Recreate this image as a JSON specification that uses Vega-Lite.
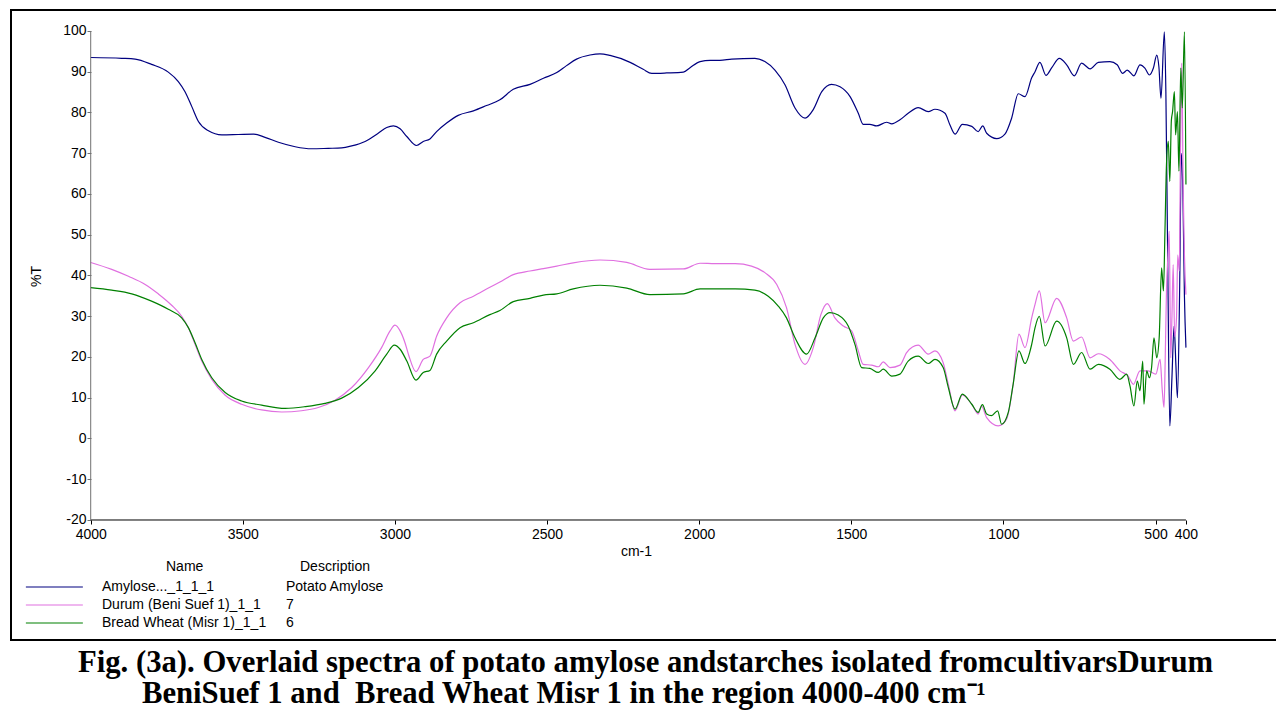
{
  "$schema": "https://vega.github.io/schema/vega-lite/v6.json",
  "width": 1265,
  "height": 630,
  "autosize": "none",
  "padding": {"left": 11, "top": 10, "right": 0, "bottom": 70},
  "background": "white",
  "title": {
    "text": ["Fig. (3a). Overlaid spectra of potato amylose andstarches isolated fromcultivarsDurum", "\u200b\u00a0\u00a0\u00a0\u00a0\u00a0\u00a0\u00a0\u00a0\u200aBeniSuef 1 and\u00a0 Bread Wheat Misr 1 in the region 4000-400 cm\u207b\u00b9"],
    "orient": "bottom",
    "anchor": "start",
    "frame": "group",
    "dx": 67,
    "offset": 8,
    "font": "Liberation Serif",
    "fontSize": 30.7,
    "fontWeight": "bold",
    "color": "black",
    "lineHeight": 31
  },
  "datasets": {
    "meta": [
      {"s": "a", "name": "Amylose..._1_1_1", "description": "Potato Amylose"},
      {"s": "d", "name": "Durum (Beni Suef 1)_1_1", "description": "7"},
      {"s": "b", "name": "Bread Wheat (Misr 1)_1_1", "description": "6"}
    ]
  },
  "data": {"values": [
    {"s":"a","w":4000,"t":93.5},{"s":"a","w":3898,"t":93.3},{"s":"a","w":3854,"t":93.1},{"s":"a","w":3800,"t":91.8},{"s":"a","w":3745,"t":89.9},{"s":"a","w":3712,"t":87.6},{"s":"a","w":3690,"t":85.1},{"s":"a","w":3668,"t":81.5},{"s":"a","w":3646,"t":77.8},{"s":"a","w":3613,"t":75.5},{"s":"a","w":3569,"t":74.5},{"s":"a","w":3515,"t":74.6},{"s":"a","w":3465,"t":74.7},{"s":"a","w":3427,"t":73.9},{"s":"a","w":3383,"t":72.7},{"s":"a","w":3328,"t":71.6},{"s":"a","w":3274,"t":71.1},{"s":"a","w":3219,"t":71.2},{"s":"a","w":3175,"t":71.3},{"s":"a","w":3142,"t":71.8},{"s":"a","w":3098,"t":72.9},{"s":"a","w":3055,"t":74.9},{"s":"a","w":3027,"t":76.3},{"s":"a","w":3005,"t":76.7},{"s":"a","w":2983,"t":76.0},{"s":"a","w":2961,"t":74.1},{"s":"a","w":2929,"t":71.9},{"s":"a","w":2907,"t":72.9},{"s":"a","w":2885,"t":73.5},{"s":"a","w":2863,"t":75.3},{"s":"a","w":2830,"t":77.4},{"s":"a","w":2792,"t":79.3},{"s":"a","w":2742,"t":80.4},{"s":"a","w":2699,"t":81.7},{"s":"a","w":2655,"t":83.1},{"s":"a","w":2611,"t":85.7},{"s":"a","w":2556,"t":86.9},{"s":"a","w":2512,"t":88.4},{"s":"a","w":2468,"t":89.8},{"s":"a","w":2436,"t":91.5},{"s":"a","w":2403,"t":93.1},{"s":"a","w":2359,"t":94.1},{"s":"a","w":2326,"t":94.4},{"s":"a","w":2293,"t":94.0},{"s":"a","w":2227,"t":92.3},{"s":"a","w":2184,"t":90.6},{"s":"a","w":2156,"t":89.6},{"s":"a","w":2107,"t":89.7},{"s":"a","w":2052,"t":89.9},{"s":"a","w":2030,"t":91.0},{"s":"a","w":1997,"t":92.5},{"s":"a","w":1964,"t":92.8},{"s":"a","w":1932,"t":92.8},{"s":"a","w":1893,"t":93.1},{"s":"a","w":1817,"t":93.3},{"s":"a","w":1784,"t":92.5},{"s":"a","w":1751,"t":90.4},{"s":"a","w":1718,"t":86.8},{"s":"a","w":1685,"t":81.1},{"s":"a","w":1652,"t":78.6},{"s":"a","w":1625,"t":80.7},{"s":"a","w":1597,"t":85.1},{"s":"a","w":1565,"t":86.9},{"s":"a","w":1537,"t":86.3},{"s":"a","w":1504,"t":83.9},{"s":"a","w":1477,"t":79.8},{"s":"a","w":1461,"t":77.1},{"s":"a","w":1439,"t":77.1},{"s":"a","w":1417,"t":76.7},{"s":"a","w":1384,"t":77.6},{"s":"a","w":1367,"t":77.2},{"s":"a","w":1340,"t":78.2},{"s":"a","w":1313,"t":79.8},{"s":"a","w":1280,"t":81.2},{"s":"a","w":1247,"t":80.2},{"s":"a","w":1225,"t":80.8},{"s":"a","w":1192,"t":79.8},{"s":"a","w":1176,"t":77.0},{"s":"a","w":1159,"t":74.7},{"s":"a","w":1135,"t":77.1},{"s":"a","w":1104,"t":76.6},{"s":"a","w":1083,"t":75.3},{"s":"a","w":1068,"t":76.7},{"s":"a","w":1055,"t":74.9},{"s":"a","w":1022,"t":73.6},{"s":"a","w":995,"t":74.7},{"s":"a","w":973,"t":78.6},{"s":"a","w":951,"t":84.6},{"s":"a","w":929,"t":83.9},{"s":"a","w":907,"t":88.5},{"s":"a","w":896,"t":90.0},{"s":"a","w":880,"t":92.3},{"s":"a","w":860,"t":89.1},{"s":"a","w":841,"t":91.0},{"s":"a","w":816,"t":93.3},{"s":"a","w":792,"t":91.7},{"s":"a","w":767,"t":89.0},{"s":"a","w":743,"t":92.1},{"s":"a","w":715,"t":90.7},{"s":"a","w":688,"t":92.3},{"s":"a","w":650,"t":92.5},{"s":"a","w":626,"t":91.7},{"s":"a","w":608,"t":89.6},{"s":"a","w":593,"t":90.4},{"s":"a","w":571,"t":89.0},{"s":"a","w":551,"t":91.7},{"s":"a","w":535,"t":90.9},{"s":"a","w":520,"t":89.2},{"s":"a","w":507,"t":90.9},{"s":"a","w":496,"t":94.1},{"s":"a","w":489,"t":91.3},{"s":"a","w":482,"t":83.5},{"s":"a","w":471,"t":99.8},{"s":"a","w":466,"t":85.1},{"s":"a","w":460,"t":44.3},{"s":"a","w":453,"t":3.1},{"s":"a","w":446,"t":15.0},{"s":"a","w":439,"t":27.6},{"s":"a","w":433,"t":18.0},{"s":"a","w":428,"t":10.0},{"s":"a","w":421,"t":35.0},{"s":"a","w":415,"t":70.0},{"s":"a","w":410,"t":60.0},{"s":"a","w":405,"t":35.0},{"s":"a","w":400,"t":22.3},
    {"s":"d","w":4000,"t":43.2},{"s":"d","w":3931,"t":41.5},{"s":"d","w":3876,"t":39.8},{"s":"d","w":3821,"t":37.8},{"s":"d","w":3778,"t":35.5},{"s":"d","w":3734,"t":32.7},{"s":"d","w":3701,"t":30.0},{"s":"d","w":3679,"t":27.2},{"s":"d","w":3657,"t":23.1},{"s":"d","w":3635,"t":19.0},{"s":"d","w":3602,"t":14.5},{"s":"d","w":3558,"t":10.6},{"s":"d","w":3504,"t":8.4},{"s":"d","w":3438,"t":7.0},{"s":"d","w":3372,"t":6.5},{"s":"d","w":3307,"t":6.8},{"s":"d","w":3252,"t":7.6},{"s":"d","w":3197,"t":9.4},{"s":"d","w":3142,"t":12.5},{"s":"d","w":3087,"t":17.4},{"s":"d","w":3044,"t":22.3},{"s":"d","w":3016,"t":26.4},{"s":"d","w":3000,"t":27.8},{"s":"d","w":2983,"t":26.4},{"s":"d","w":2967,"t":23.5},{"s":"d","w":2955,"t":20.5},{"s":"d","w":2931,"t":16.4},{"s":"d","w":2907,"t":19.4},{"s":"d","w":2885,"t":20.2},{"s":"d","w":2863,"t":25.1},{"s":"d","w":2830,"t":29.6},{"s":"d","w":2786,"t":33.3},{"s":"d","w":2742,"t":34.9},{"s":"d","w":2688,"t":37.1},{"s":"d","w":2655,"t":38.4},{"s":"d","w":2611,"t":40.2},{"s":"d","w":2556,"t":41.1},{"s":"d","w":2512,"t":41.7},{"s":"d","w":2468,"t":42.3},{"s":"d","w":2414,"t":43.1},{"s":"d","w":2326,"t":43.8},{"s":"d","w":2238,"t":43.2},{"s":"d","w":2162,"t":41.5},{"s":"d","w":2052,"t":41.6},{"s":"d","w":1997,"t":43.0},{"s":"d","w":1948,"t":42.9},{"s":"d","w":1882,"t":42.9},{"s":"d","w":1828,"t":42.3},{"s":"d","w":1784,"t":40.7},{"s":"d","w":1745,"t":37.8},{"s":"d","w":1713,"t":32.1},{"s":"d","w":1685,"t":23.1},{"s":"d","w":1652,"t":18.2},{"s":"d","w":1625,"t":22.3},{"s":"d","w":1600,"t":30.4},{"s":"d","w":1579,"t":33.1},{"s":"d","w":1554,"t":29.6},{"s":"d","w":1526,"t":27.6},{"s":"d","w":1499,"t":26.4},{"s":"d","w":1477,"t":21.5},{"s":"d","w":1461,"t":18.2},{"s":"d","w":1433,"t":18.0},{"s":"d","w":1411,"t":17.6},{"s":"d","w":1395,"t":18.8},{"s":"d","w":1373,"t":17.4},{"s":"d","w":1340,"t":18.0},{"s":"d","w":1318,"t":21.1},{"s":"d","w":1280,"t":22.9},{"s":"d","w":1247,"t":20.7},{"s":"d","w":1225,"t":21.5},{"s":"d","w":1198,"t":18.6},{"s":"d","w":1181,"t":13.3},{"s":"d","w":1159,"t":6.8},{"s":"d","w":1135,"t":10.7},{"s":"d","w":1104,"t":8.4},{"s":"d","w":1083,"t":6.0},{"s":"d","w":1072,"t":8.0},{"s":"d","w":1055,"t":5.1},{"s":"d","w":1017,"t":3.1},{"s":"d","w":990,"t":4.7},{"s":"d","w":968,"t":13.3},{"s":"d","w":949,"t":25.6},{"s":"d","w":929,"t":22.3},{"s":"d","w":907,"t":29.6},{"s":"d","w":896,"t":32.9},{"s":"d","w":882,"t":36.2},{"s":"d","w":863,"t":28.4},{"s":"d","w":825,"t":34.4},{"s":"d","w":792,"t":29.6},{"s":"d","w":770,"t":23.9},{"s":"d","w":743,"t":24.9},{"s":"d","w":715,"t":19.8},{"s":"d","w":688,"t":20.8},{"s":"d","w":650,"t":19.4},{"s":"d","w":617,"t":16.6},{"s":"d","w":590,"t":15.3},{"s":"d","w":573,"t":13.3},{"s":"d","w":551,"t":16.6},{"s":"d","w":524,"t":16.6},{"s":"d","w":499,"t":15.8},{"s":"d","w":485,"t":19.4},{"s":"d","w":478,"t":12.0},{"s":"d","w":472,"t":7.6},{"s":"d","w":468,"t":20.0},{"s":"d","w":464,"t":36.2},{"s":"d","w":459,"t":45.0},{"s":"d","w":455,"t":50.9},{"s":"d","w":450,"t":19.8},{"s":"d","w":446,"t":30.0},{"s":"d","w":442,"t":42.7},{"s":"d","w":437,"t":25.0},{"s":"d","w":431,"t":29.6},{"s":"d","w":427,"t":45.0},{"s":"d","w":422,"t":41.1},{"s":"d","w":418,"t":70.0},{"s":"d","w":414,"t":92.1},{"s":"d","w":409,"t":60.7},{"s":"d","w":405,"t":45.0},{"s":"d","w":400,"t":35.3},
    {"s":"b","w":4000,"t":37.0},{"s":"b","w":3931,"t":36.4},{"s":"b","w":3865,"t":35.5},{"s":"b","w":3800,"t":33.7},{"s":"b","w":3745,"t":31.7},{"s":"b","w":3701,"t":29.6},{"s":"b","w":3679,"t":27.2},{"s":"b","w":3657,"t":23.5},{"s":"b","w":3635,"t":19.4},{"s":"b","w":3602,"t":14.9},{"s":"b","w":3558,"t":11.3},{"s":"b","w":3504,"t":9.2},{"s":"b","w":3438,"t":8.2},{"s":"b","w":3361,"t":7.4},{"s":"b","w":3296,"t":7.8},{"s":"b","w":3230,"t":8.6},{"s":"b","w":3175,"t":9.9},{"s":"b","w":3120,"t":12.5},{"s":"b","w":3065,"t":16.6},{"s":"b","w":3027,"t":20.7},{"s":"b","w":3002,"t":22.9},{"s":"b","w":2983,"t":21.9},{"s":"b","w":2961,"t":19.0},{"s":"b","w":2931,"t":14.3},{"s":"b","w":2907,"t":16.2},{"s":"b","w":2885,"t":16.7},{"s":"b","w":2863,"t":20.7},{"s":"b","w":2830,"t":23.9},{"s":"b","w":2786,"t":27.2},{"s":"b","w":2742,"t":28.4},{"s":"b","w":2688,"t":30.4},{"s":"b","w":2655,"t":31.4},{"s":"b","w":2611,"t":33.6},{"s":"b","w":2556,"t":34.4},{"s":"b","w":2512,"t":35.2},{"s":"b","w":2468,"t":35.5},{"s":"b","w":2414,"t":36.7},{"s":"b","w":2326,"t":37.6},{"s":"b","w":2238,"t":36.9},{"s":"b","w":2162,"t":35.3},{"s":"b","w":2052,"t":35.5},{"s":"b","w":1997,"t":36.7},{"s":"b","w":1948,"t":36.7},{"s":"b","w":1882,"t":36.7},{"s":"b","w":1817,"t":36.4},{"s":"b","w":1773,"t":34.9},{"s":"b","w":1740,"t":32.5},{"s":"b","w":1713,"t":29.6},{"s":"b","w":1685,"t":24.7},{"s":"b","w":1647,"t":20.7},{"s":"b","w":1619,"t":24.7},{"s":"b","w":1592,"t":29.6},{"s":"b","w":1570,"t":30.9},{"s":"b","w":1543,"t":30.3},{"s":"b","w":1510,"t":27.6},{"s":"b","w":1488,"t":23.1},{"s":"b","w":1466,"t":17.4},{"s":"b","w":1439,"t":17.2},{"s":"b","w":1411,"t":16.2},{"s":"b","w":1395,"t":17.0},{"s":"b","w":1367,"t":15.3},{"s":"b","w":1340,"t":15.8},{"s":"b","w":1313,"t":19.0},{"s":"b","w":1280,"t":20.2},{"s":"b","w":1247,"t":18.4},{"s":"b","w":1225,"t":19.4},{"s":"b","w":1198,"t":17.4},{"s":"b","w":1181,"t":12.5},{"s":"b","w":1159,"t":7.2},{"s":"b","w":1135,"t":10.9},{"s":"b","w":1104,"t":8.4},{"s":"b","w":1083,"t":6.4},{"s":"b","w":1069,"t":8.3},{"s":"b","w":1055,"t":6.0},{"s":"b","w":1039,"t":5.6},{"s":"b","w":1019,"t":6.8},{"s":"b","w":1006,"t":3.5},{"s":"b","w":984,"t":6.4},{"s":"b","w":968,"t":13.3},{"s":"b","w":949,"t":21.5},{"s":"b","w":929,"t":18.4},{"s":"b","w":907,"t":23.1},{"s":"b","w":896,"t":27.2},{"s":"b","w":882,"t":30.0},{"s":"b","w":863,"t":22.7},{"s":"b","w":825,"t":28.8},{"s":"b","w":792,"t":24.7},{"s":"b","w":770,"t":18.2},{"s":"b","w":743,"t":21.1},{"s":"b","w":715,"t":17.0},{"s":"b","w":688,"t":18.2},{"s":"b","w":650,"t":17.0},{"s":"b","w":617,"t":14.5},{"s":"b","w":595,"t":15.8},{"s":"b","w":584,"t":12.9},{"s":"b","w":571,"t":8.0},{"s":"b","w":560,"t":14.1},{"s":"b","w":551,"t":11.7},{"s":"b","w":542,"t":19.0},{"s":"b","w":538,"t":8.4},{"s":"b","w":529,"t":16.6},{"s":"b","w":520,"t":14.9},{"s":"b","w":513,"t":17.4},{"s":"b","w":505,"t":24.7},{"s":"b","w":496,"t":19.8},{"s":"b","w":488,"t":24.7},{"s":"b","w":480,"t":41.9},{"s":"b","w":474,"t":36.2},{"s":"b","w":469,"t":50.9},{"s":"b","w":464,"t":67.2},{"s":"b","w":458,"t":72.9},{"s":"b","w":453,"t":63.1},{"s":"b","w":448,"t":78.0},{"s":"b","w":444,"t":80.2},{"s":"b","w":438,"t":85.1},{"s":"b","w":434,"t":74.5},{"s":"b","w":428,"t":80.2},{"s":"b","w":423,"t":65.6},{"s":"b","w":417,"t":90.9},{"s":"b","w":412,"t":81.1},{"s":"b","w":405,"t":99.8},{"s":"b","w":400,"t":62.3}
  ]},
  "transform": [
    {"lookup": "s", "from": {"data": {"name": "meta"}, "key": "s", "fields": ["name", "description"]}}
  ],
  "layer": [
    {
      "mark": {"type": "line", "strokeWidth": 1.2, "interpolate": "monotone"},
      "encoding": {
        "x": {
          "field": "w", "type": "quantitative",
          "scale": {"domain": [4262, 104], "nice": false, "zero": false},
          "axis": {
            "values": [4000, 3500, 3000, 2500, 2000, 1500, 1000, 500, 400],
            "offset": -120, "labelExpr": "'' + datum.value", "tickSize": 4, "tickColor": "black",
            "labelPadding": 3, "labelFlush": false, "labelOverlap": false,
            "title": "cm-1", "titleX": 625, "titleY": 31, "titleBaseline": "middle", "titleAlign": "center"
          }
        },
        "y": {
          "field": "t", "type": "quantitative",
          "scale": {"domain": [-49.45, 105.15], "nice": false, "zero": false},
          "axis": {
            "values": [-20, -10, 0, 10, 20, 30, 40, 50, 60, 70, 80, 90, 100],
            "offset": -80, "labelExpr": "'' + datum.value", "tickSize": 4, "tickColor": "#707070",
            "labelPadding": 1, "labelOverlap": false,
            "title": "%T", "titleX": -55, "titleY": 266, "titleBaseline": "middle", "titleAlign": "center", "titleAngle": -90
          }
        },
        "color": {
          "field": "name", "type": "nominal",
          "scale": {"domain": ["Amylose..._1_1_1", "Durum (Beni Suef 1)_1_1", "Bread Wheat (Misr 1)_1_1"], "range": ["#000080", "#E070E0", "#008000"]},
          "legend": {
            "title": "Name", "orient": "none", "legendX": 14, "legendY": 550,
            "symbolType": "M-1,0H7", "symbolSize": 203, "symbolStrokeWidth": 1.2,
            "labelOffset": 61, "rowPadding": 3, "titlePadding": 5, "padding": 0,
            "labelLimit": 400,
            "encode": {"title": {"update": {"dx": {"value": 141}}}}
          }
        },
        "opacity": {
          "field": "description", "type": "nominal",
          "scale": {"domain": ["Potato Amylose", "7", "6"], "range": [1, 1, 1]},
          "legend": {
            "title": "Description", "orient": "none", "legendX": 260, "legendY": 550,
            "symbolType": "M-1,0H7", "symbolSize": 203, "symbolOpacity": 0, "symbolStrokeWidth": 0,
            "labelOffset": 0, "rowPadding": 3, "titlePadding": 5, "padding": 0,
            "labelLimit": 400,
            "encode": {"title": {"update": {"dx": {"value": 29}}}}
          }
        }
      }
    },
    {
      "mark": {"type": "rule", "color": "black", "strokeWidth": 1},
      "encoding": {
        "x": {"aggregate": "min", "field": "w", "type": "quantitative", "title": "cm-1"},
        "x2": {"aggregate": "max", "field": "w"},
        "y": {"datum": -20, "type": "quantitative"}
      }
    },
    {
      "mark": {"type": "rule", "color": "#707070", "strokeWidth": 1},
      "encoding": {
        "x": {"aggregate": "max", "field": "w", "type": "quantitative", "title": "cm-1"},
        "y": {"datum": -20, "type": "quantitative"},
        "y2": {"datum": 100}
      }
    }
  ],
  "config": {
    "view": {"stroke": "black", "strokeWidth": 2, "strokeDash": [1265, 630, 2000]},
    "axis": {
      "grid": false, "domain": false,
      "labelFont": "Liberation Sans", "titleFont": "Liberation Sans",
      "labelFontSize": 14, "titleFontSize": 14, "titleFontWeight": "normal",
      "labelColor": "black", "titleColor": "black"
    },
    "legend": {
      "labelFont": "Liberation Sans", "titleFont": "Liberation Sans",
      "labelFontSize": 14, "titleFontSize": 14, "titleFontWeight": "normal",
      "labelColor": "black", "titleColor": "black"
    }
  }
}
